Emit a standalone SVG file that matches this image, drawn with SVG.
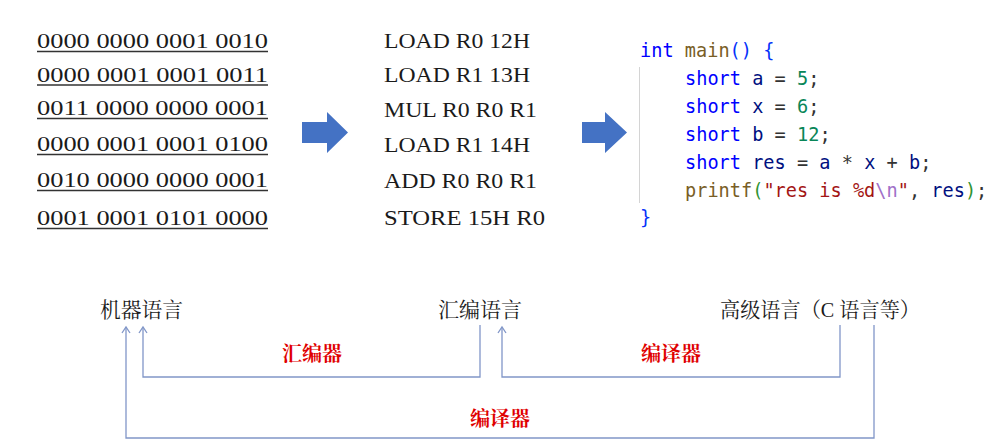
<svg xmlns="http://www.w3.org/2000/svg" width="989" height="447" viewBox="0 0 989 447">
<style>
.bin{font-family:"Liberation Serif",serif;font-size:22px;fill:#1a1a1a}
.asm{font-family:"Liberation Serif",serif;font-size:22px;fill:#1a1a1a}
.ul{stroke:#333;stroke-width:1.5}
.code{font-family:"DejaVu Sans Mono","Liberation Mono",monospace;font-size:18.6px;fill:#001080}
.kw{fill:#0000ff}.fn{fill:#795e26}.br1{fill:#0431fa}.br2{fill:#319331}.num{fill:#098658}.str{fill:#a31515}.esc{fill:#a070c8}.op{fill:#333}
.lbl{font-family:"Liberation Serif","Noto Serif CJK SC","Noto Sans CJK SC",serif;font-size:21px;fill:#1a1a1a}
.red{font-family:"Noto Serif CJK SC","Noto Sans CJK SC",sans-serif;font-size:20px;fill:#e00000;font-weight:bold}
.bigarrow{fill:#4472c4}
.conn{fill:none;stroke:#8196c8;stroke-width:1.3}
</style>
<defs>
<marker id="ah" markerUnits="userSpaceOnUse" orient="auto" refX="0" refY="0" markerWidth="10" markerHeight="10" overflow="visible">
<path d="M-6,-4 L0,0 L-6,4" fill="none" stroke="#8196c8" stroke-width="1.3"/>
</marker>
</defs>
<rect width="989" height="447" fill="#ffffff"/>

<g id="machine-code">
<text class="bin" x="37" y="48" textLength="231" lengthAdjust="spacingAndGlyphs">0000 0000 0001 0010</text>
<text class="bin" x="37" y="82" textLength="231" lengthAdjust="spacingAndGlyphs">0000 0001 0001 0011</text>
<text class="bin" x="37" y="115" textLength="231" lengthAdjust="spacingAndGlyphs">0011 0000 0000 0001</text>
<text class="bin" x="37" y="151" textLength="231" lengthAdjust="spacingAndGlyphs">0000 0001 0001 0100</text>
<text class="bin" x="37" y="187" textLength="231" lengthAdjust="spacingAndGlyphs">0010 0000 0000 0001</text>
<text class="bin" x="37" y="225" textLength="231" lengthAdjust="spacingAndGlyphs">0001 0001 0101 0000</text>
<line class="ul" x1="37" y1="51.5" x2="268" y2="51.5"/>
<line class="ul" x1="37" y1="85" x2="268" y2="85"/>
<line class="ul" x1="37" y1="118.5" x2="268" y2="118.5"/>
<line class="ul" x1="37" y1="154.5" x2="268" y2="154.5"/>
<line class="ul" x1="37" y1="190.5" x2="268" y2="190.5"/>
<line class="ul" x1="37" y1="228.5" x2="268" y2="228.5"/>
</g>

<g id="arrow1"><polygon class="bigarrow" points="302,122 327,122 327,112 348,132.5 327,153 327,143 302,143"/></g>

<g id="assembly">
<text class="asm" x="384" y="48" textLength="146" lengthAdjust="spacingAndGlyphs">LOAD R0 12H</text>
<text class="asm" x="384" y="82" textLength="146" lengthAdjust="spacingAndGlyphs">LOAD R1 13H</text>
<text class="asm" x="384" y="117" textLength="153" lengthAdjust="spacingAndGlyphs">MUL R0 R0 R1</text>
<text class="asm" x="384" y="152" textLength="146" lengthAdjust="spacingAndGlyphs">LOAD R1 14H</text>
<text class="asm" x="384" y="188" textLength="153" lengthAdjust="spacingAndGlyphs">ADD R0 R0 R1</text>
<text class="asm" x="384" y="225" textLength="161" lengthAdjust="spacingAndGlyphs">STORE 15H R0</text>
</g>

<g id="arrow2"><polygon class="bigarrow" points="582,122 605,122 605,112 627,132.5 605,153 605,143 582,143"/></g>

<g id="c-code">
<line x1="639.5" y1="67" x2="639.5" y2="203" stroke="#d4d4d4" stroke-width="1"/>
<text class="code" x="640" y="57" xml:space="preserve"><tspan class="kw">int</tspan> <tspan class="fn">main</tspan><tspan class="br1">()</tspan> <tspan class="br1">{</tspan></text>
<text class="code" x="685" y="85" xml:space="preserve"><tspan class="kw">short</tspan> a <tspan class="op">=</tspan> <tspan class="num">5</tspan><tspan class="op">;</tspan></text>
<text class="code" x="685" y="113" xml:space="preserve"><tspan class="kw">short</tspan> x <tspan class="op">=</tspan> <tspan class="num">6</tspan><tspan class="op">;</tspan></text>
<text class="code" x="685" y="141" xml:space="preserve"><tspan class="kw">short</tspan> b <tspan class="op">=</tspan> <tspan class="num">12</tspan><tspan class="op">;</tspan></text>
<text class="code" x="685" y="169" xml:space="preserve"><tspan class="kw">short</tspan> res <tspan class="op">=</tspan> a <tspan class="op">*</tspan> x <tspan class="op">+</tspan> b<tspan class="op">;</tspan></text>
<text class="code" x="685" y="197" xml:space="preserve"><tspan class="fn">printf</tspan><tspan class="br2">(</tspan><tspan class="str">"res is %d</tspan><tspan class="esc">\n</tspan><tspan class="str">"</tspan><tspan class="op">,</tspan> res<tspan class="br2">)</tspan><tspan class="op">;</tspan></text>
<text class="code" x="640" y="224"><tspan class="br1">}</tspan></text>
</g>

<g id="machine-language"><text class="lbl" x="100" y="317" textLength="83" lengthAdjust="spacingAndGlyphs">机器语言</text></g>
<g id="assembly-language"><text class="lbl" x="438" y="317" textLength="84" lengthAdjust="spacingAndGlyphs">汇编语言</text></g>
<g id="high-level-language"><text class="lbl" x="720" y="317" textLength="200" lengthAdjust="spacingAndGlyphs">高级语言（C 语言等）</text></g>

<g id="connectors">
<path class="conn" d="M480,325 V377 H143 V327" marker-end="url(#ah)"/>
<path class="conn" d="M840,325 V377 H502 V327" marker-end="url(#ah)"/>
<path class="conn" d="M874,325 V438 H126 V327" marker-end="url(#ah)"/>
<text class="red" x="282" y="361">汇编器</text>
<text class="red" x="641" y="361">编译器</text>
<text class="red" x="470" y="426">编译器</text>
</g>
</svg>
